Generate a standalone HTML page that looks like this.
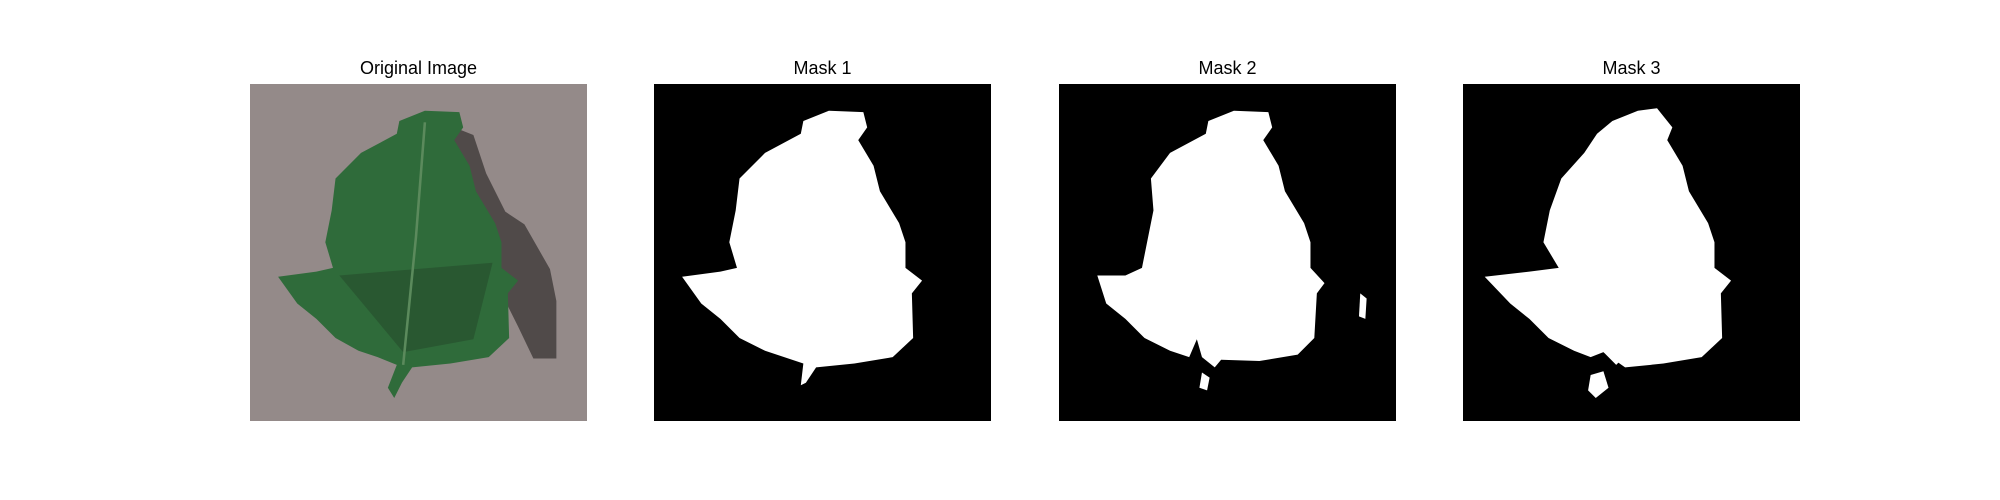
<!DOCTYPE html>
<html><head><meta charset="utf-8"><style>
html,body{margin:0;padding:0;background:#fff;}
#fig{position:relative;width:2000px;height:500px;overflow:hidden;font-family:"Liberation Sans","DejaVu Sans",sans-serif;}
.panel{position:absolute;top:84px;width:337px;height:337px;}
.title{position:absolute;top:58px;width:337px;text-align:center;font-size:18px;color:#000;}
svg{display:block}
</style></head><body>
<div id="fig">
  <div class="title" style="left:250px">Original Image</div>
  <div class="title" style="left:654px">Mask 1</div>
  <div class="title" style="left:1059px">Mask 2</div>
  <div class="title" style="left:1463px">Mask 3</div>

  <div class="panel" style="left:250px">
    <svg width="337" height="337" viewBox="0 0 264 264" preserveAspectRatio="none">
      <rect width="264" height="264" fill="#948a89"/>
      <path d="M150 30 L175 40 L185 70 L200 100 L215 110 L235 145 L240 170 L240 215 L222 215 L210 190 L190 150 Z" fill="#3e3a3a" opacity="0.8"/>
      <path d="M137 21 L164 22 L167 34 L160 44 L172 64 L177 84 L192 109 L197 124 L197 144 L210 154 L202 164 L203 199 L187 214 L157 219 L127 222 L119 234 L113 246 L108 238 L115 220 L100 214 L85 209 L67 199 L52 184 L37 172 L22 151 L52 147 L65 144 L59 124 L64 99 L67 74 L87 54 L115 39 L117 29 Z" fill="#2f6b3a"/>
      <path d="M70 150 L190 140 L175 200 L120 210 Z" fill="#27502d" opacity="0.7"/>
      <path d="M137 30 L130 120 L120 220" stroke="#5b8a5c" stroke-width="2" fill="none"/>
    </svg>
  </div>

  <div class="panel" style="left:654px">
    <svg width="337" height="337" viewBox="0 0 264 264" preserveAspectRatio="none">
      <rect width="264" height="264" fill="#000"/>
      <path d="M137 21 L164 22 L167 34 L160 44 L172 64 L177 84 L192 109 L197 124 L197 144 L210 154 L202 164 L203 199 L187 214 L157 219 L127 222 L119 234 L115 236 L117 219 L102 214 L87 209 L67 199 L52 184 L37 172 L22 151 L52 147 L65 144 L59 124 L64 99 L67 74 L87 54 L115 39 L117 29 Z" fill="#fff"/>
    </svg>
  </div>

  <div class="panel" style="left:1059px">
    <svg width="337" height="337" viewBox="0 0 264 264" preserveAspectRatio="none">
      <rect width="264" height="264" fill="#000"/>
      <path d="M137 21 L164 22 L167 34 L160 44 L172 64 L177 84 L192 109 L197 124 L197 144 L208 156 L202 164 L200 199 L187 212 L157 217 L127 216 L122 222 L112 214 L108 200 L102 214 L87 209 L67 199 L52 184 L37 172 L30 150 L52 150 L65 144 L69 124 L74 99 L72 74 L87 54 L115 39 L117 29 Z" fill="#fff"/>
      <path d="M112 226 L118 230 L116 240 L110 238 Z" fill="#fff"/>
      <path d="M236 164 L241 168 L240 184 L235 182 Z" fill="#fff"/>
    </svg>
  </div>

  <div class="panel" style="left:1463px">
    <svg width="337" height="337" viewBox="0 0 264 264" preserveAspectRatio="none">
      <rect width="264" height="264" fill="#000"/>
      <path d="M137 21 L152 19 L164 34 L160 44 L172 64 L177 84 L192 109 L197 124 L197 144 L210 154 L202 164 L203 199 L187 214 L157 219 L127 222 L110 210 L100 214 L87 209 L67 199 L52 184 L37 172 L17 151 L52 147 L75 144 L63 124 L68 99 L77 74 L95 54 L105 39 L117 29 Z" fill="#fff"/>
      <path d="M95 184 L102 184 L115 205 L125 215 L120 220 L105 205 Z" fill="#fff"/>
      <path d="M100 228 L110 225 L114 238 L104 246 L98 240 Z" fill="#fff"/>
    </svg>
  </div>
</div>
</body></html>
